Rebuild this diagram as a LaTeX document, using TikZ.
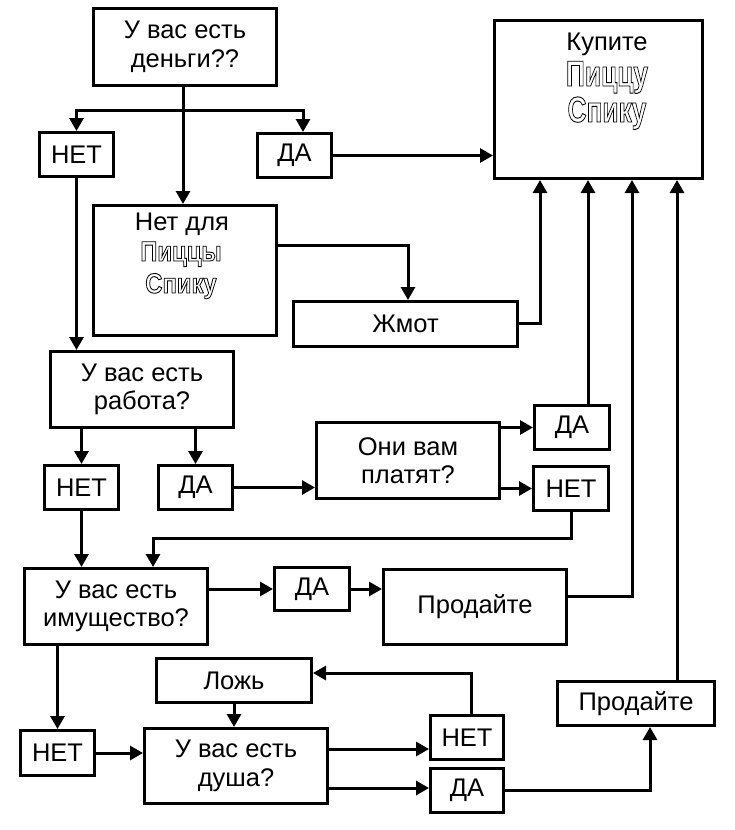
\documentclass[tikz,border=0pt]{standalone}
\usepackage{fontspec}
\setmainfont{Liberation Sans}
\usepackage{graphicx}
\usepackage{xcolor}
\usetikzlibrary{arrows.meta}
\newcommand\outl[3]{\scalebox{#1}[1]{\special{pdf:literal direct 2 Tr 0.9 w 0 G 1 g}{\fontsize{#2}{#2}\selectfont\bfseries #3}\special{pdf:literal direct 0 Tr 0 g 0 G}}}
\newcommand\bx[6]{\node[box, minimum width={#4bp-#2bp-3bp}, minimum height={#5bp-#3bp-3bp}] (#1) at ({(#2+#4)/2},{(#3+#5)/2}) {#6};}
\begin{document}
\begin{tikzpicture}[x=1bp,y=-1bp,
  box/.style={draw, line width=3bp, inner sep=0pt, align=center, font=\fontsize{25.5bp}{28.5bp}\selectfont},
  txt/.style={inner sep=0pt, font=\fontsize{25.5bp}{28.5bp}\selectfont},
  arr/.style={-{Triangle[length=13bp,width=14bp]}, line width=3bp}]
\useasboundingbox (0,0) rectangle (735,830);
% boxes
\bx{money}{92}{7}{278}{87}{У вас есть\\деньги??}
\bx{no1}{38}{131}{115}{178}{НЕТ}
\bx{yes1}{256}{132}{333}{179}{ДА}
\bx{buy}{493}{19}{704}{180}{}
\bx{nofor}{92}{204}{278}{337}{}
\bx{zhmot}{292}{300}{519}{348}{Жмот}
\bx{job}{49}{350}{235}{429}{У вас есть\\работа?}
\bx{no2}{43}{464}{120}{511}{НЕТ}
\bx{yes2}{157}{464}{234}{511}{ДА}
\bx{pay}{315}{421}{501}{500}{Они вам\\платят?}
\bx{yes3}{533}{404}{611}{451}{ДА}
\bx{no3}{532}{465}{610}{512}{НЕТ}
\bx{prop}{23}{567}{209}{646}{У вас есть\\имущество?}
\bx{yes4}{273}{566}{351}{612}{ДА}
\bx{sell1}{382}{568}{568}{646}{Продайте}
\bx{lie}{155}{657}{313}{704}{Ложь}
\bx{no4}{19}{729}{96}{777}{НЕТ}
\bx{soul}{143}{727}{329}{805}{У вас есть\\душа?}
\bx{no5}{429}{714}{505}{761}{НЕТ}
\bx{yes5}{429}{767}{505}{814}{ДА}
\bx{sell2}{556}{680}{716}{727}{Продайте}
% texts in tall boxes
\node[txt, anchor=base] (buyt) at (607,50) {Купите};
\node[inner sep=0pt, anchor=base] (buyp) at (607,86) {\outl{0.73}{36bp}{Пиццу}};
\node[inner sep=0pt, anchor=base] (buys) at (607,122) {\outl{0.73}{36bp}{Спику}};
\node[txt, anchor=base] (nft) at (182,230) {Нет для};
\node[inner sep=0pt, anchor=base] (nfp) at (181,261) {\outl{0.85}{28bp}{Пиццы}};
\node[inner sep=0pt, anchor=base] (nfs) at (181,293) {\outl{0.85}{28bp}{Спику}};
% helper coordinates
\coordinate (split) at (183,110);
\coordinate (c1) at (303,110);
\coordinate (c2) at (408,245);
\coordinate (c3) at (540,323);
\coordinate (c5) at (588,0);
\coordinate (c6) at (153,538);
\coordinate (c7) at (632,596);
\coordinate (c8) at (0,749);
\coordinate (c9) at (471,673);
\coordinate (c10) at (0,788);
\coordinate (c11) at (650,790);
\coordinate (c12) at (677,0);
% connectors
\draw[arr] (split |- money.south) -- (split |- nofor.north);
\draw[arr] (split) -| (no1.north);
\draw[arr] (split) -- (c1) -- (c1 |- yes1.north);
\draw[arr] (yes1.east) -- (yes1.east -| buy.west);
\draw[arr] (no1.south) -- (no1.south |- job.north);
\draw[arr] (c2 -| nofor.east) -- (c2) -- (c2 |- zhmot.north);
\draw[arr] (c3 -| zhmot.east) -- (c3) -- (c3 |- buy.south);
\draw[arr] (no2.north |- job.south) -- (no2.north);
\draw[arr] (yes2.north |- job.south) -- (yes2.north);
\draw[arr] (yes2.east) -- (yes2.east -| pay.west);
\draw[arr] (yes3.west -| pay.east) -- (yes3.west);
\draw[arr] (no3.west -| pay.east) -- (no3.west);
\draw[arr] (yes3.north -| c5) -- (buy.south -| c5);
\draw[arr] (no3.south) |- (c6) -- (c6 |- prop.north);
\draw[arr] (no2.south) -- (no2.south |- prop.north);
\draw[arr] (prop.east |- yes4.west) -- (yes4.west);
\draw[arr] (yes4.east) -- (yes4.east -| sell1.west);
\draw[arr] (c7 -| sell1.east) -- (c7) -- (c7 |- buy.south);
\draw[arr] (no4.north |- prop.south) -- (no4.north);
\draw[arr] (no4.east) -- (no4.east -| soul.west);
\draw[arr] (lie.south) -- (lie.south |- soul.north);
\draw[arr] (soul.east |- c8) -- (no5.west |- c8);
\draw[arr] (c9 |- no5.north) -- (c9) -- (c9 -| lie.east);
\draw[arr] (soul.east |- c10) -- (yes5.west |- c10);
\draw[arr] (yes5.east |- c11) -- (c11) -- (c11 |- sell2.south);
\draw[arr] (sell2.north -| c12) -- (buy.south -| c12);
\end{tikzpicture}
\end{document}
